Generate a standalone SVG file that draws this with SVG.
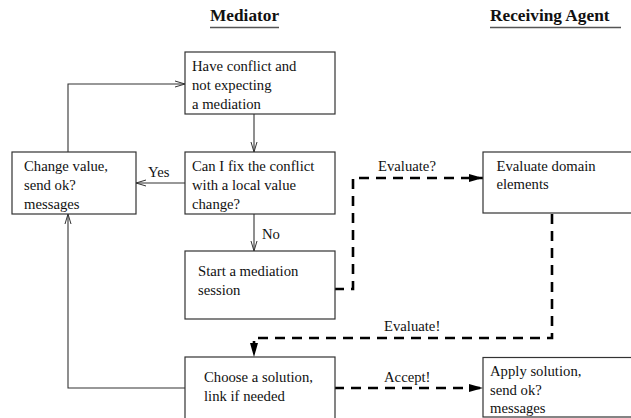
<svg xmlns="http://www.w3.org/2000/svg" width="631" height="418" viewBox="0 0 631 418">
<defs>
<marker id="open" viewBox="0 0 10 10" refX="10" refY="5" markerWidth="10" markerHeight="10" markerUnits="userSpaceOnUse" orient="auto">
<path d="M0,2 L10,5 L0,8" fill="none" stroke="#333" stroke-width="1"/>
</marker>
<marker id="filled" viewBox="0 0 14 10" refX="14" refY="5" markerWidth="14" markerHeight="10" markerUnits="userSpaceOnUse" orient="auto">
<path d="M0,1 L14,5 L0,9 Z" fill="#000"/>
</marker>
</defs>
<style>
.box{fill:#fff;stroke:#333;stroke-width:1.2}
.t{font-family:"Liberation Serif","Times New Roman",serif;font-size:14.7px;fill:#111}
.h{font-family:"Liberation Serif","Times New Roman",serif;font-size:17.3px;font-weight:bold;fill:#111}
.ul{stroke:#555;stroke-width:1.4}
.thin{fill:none;stroke:#333;stroke-width:1.1;marker-end:url(#open)}
.dash{fill:none;stroke:#000;stroke-width:2.6;stroke-dasharray:10,7;marker-end:url(#filled)}
</style>
<rect width="631" height="418" fill="#fff"/>
<g id="headings">
<text class="h" x="210" y="21">Mediator</text>
<line class="ul" x1="210" y1="27.5" x2="279" y2="27.5"/>
<text class="h" x="490" y="21">Receiving Agent</text>
<line class="ul" x1="490" y1="27.5" x2="621" y2="27.5"/>
</g>
<g id="connectors">
<path class="thin" d="M68,152 V84 H185"/>
<path class="thin" d="M254,114 V152"/>
<path class="thin" d="M185,183 H136"/>
<path class="thin" d="M254,214 V251"/>
<path class="thin" d="M185,388 H68 V214"/>
<path class="dash" d="M334,289 H353 V178 H483"/>
<path class="dash" d="M552,214 V338 H254 V357"/>
<path class="dash" d="M334,388 H483"/>
<text class="t" x="148" y="177">Yes</text>
<text class="t" x="262" y="239">No</text>
<text class="t" x="378" y="171">Evaluate?</text>
<text class="t" x="384" y="331">Evaluate!</text>
<text class="t" x="384" y="382">Accept!</text>
</g>
<g id="have-conflict">
<rect class="box" x="185" y="52" width="150" height="62"/>
<text class="t" x="192" y="71">Have conflict and</text>
<text class="t" x="192" y="90">not expecting</text>
<text class="t" x="192" y="109">a mediation</text>
</g>
<g id="can-fix">
<rect class="box" x="185" y="152" width="150" height="62"/>
<text class="t" x="192" y="171">Can I fix the conflict</text>
<text class="t" x="192" y="190">with a local value</text>
<text class="t" x="192" y="209">change?</text>
</g>
<g id="change-value">
<rect class="box" x="12" y="152" width="124" height="62"/>
<text class="t" x="24" y="171">Change value,</text>
<text class="t" x="24" y="190">send ok?</text>
<text class="t" x="24" y="209">messages</text>
</g>
<g id="start-mediation">
<rect class="box" x="185" y="251" width="150" height="68"/>
<text class="t" x="198" y="276">Start a mediation</text>
<text class="t" x="198" y="295">session</text>
</g>
<g id="choose-solution">
<rect class="box" x="185" y="357" width="150" height="70"/>
<text class="t" x="204" y="382">Choose a solution,</text>
<text class="t" x="204" y="401">link if needed</text>
</g>
<g id="evaluate-domain">
<rect class="box" x="483" y="152" width="160" height="61"/>
<text class="t" x="496.5" y="171">Evaluate domain</text>
<text class="t" x="496.5" y="189">elements</text>
</g>
<g id="apply-solution">
<rect class="box" x="483" y="357.5" width="160" height="59.5"/>
<text class="t" x="490" y="376">Apply solution,</text>
<text class="t" x="490" y="395">send ok?</text>
<text class="t" x="490" y="413">messages</text>
</g>
</svg>
